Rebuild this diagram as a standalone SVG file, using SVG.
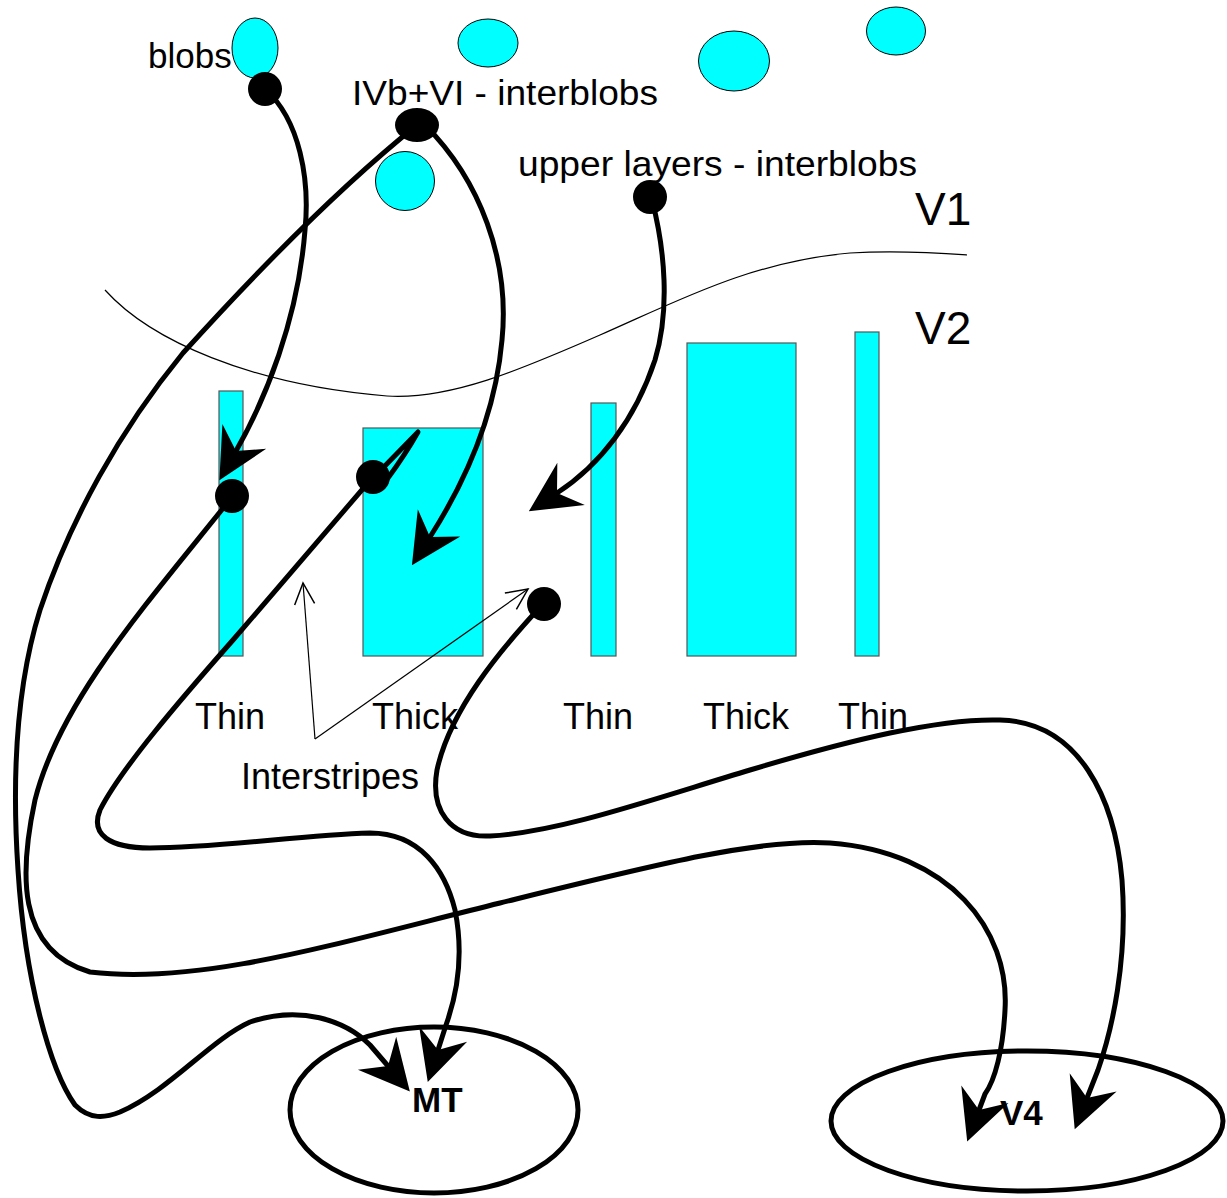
<svg xmlns="http://www.w3.org/2000/svg" width="1227" height="1198" viewBox="0 0 1227 1198">
<style>
.cy{fill:#00ffff;stroke:#000;stroke-width:1}
.st{fill:#00ffff;stroke:#555;stroke-width:1.2}
.dot{fill:#000}
.c{fill:none;stroke:#000;stroke-width:5;stroke-linecap:round;stroke-linejoin:round}
.arr{marker-end:url(#ah)}
.thin{fill:none;stroke:#000;stroke-width:1.2}
.lbl{font-family:"Liberation Sans",Arial,sans-serif;font-size:35px;fill:#000}
.big{font-size:46px}
.stripe{font-size:36px}
.area{fill:none;stroke:#000;stroke-width:5}
.alb{font-family:"Liberation Sans",Arial,sans-serif;font-size:35px;font-weight:bold;fill:#000}
</style>
<defs>
<marker id="ah" markerUnits="userSpaceOnUse" markerWidth="60" markerHeight="60" viewBox="-20 -25 50 50" refX="0" refY="0" orient="auto">
<path d="M28,0 L-14,-21 L0,0 L-14,21 Z" fill="#000"/>
</marker>
<marker id="oa" markerUnits="userSpaceOnUse" markerWidth="30" markerHeight="30" viewBox="-20 -12 24 24" refX="0" refY="0" orient="auto">
<path d="M-17,-8 L0,0 L-17,8" fill="none" stroke="#000" stroke-width="1.2"/>
</marker>
</defs>

<g id="v1-v2-border">
<path class="thin" d="M105,290 C150,340 250,385 387,396 C450,400 520,370 600,335 C680,300 750,262 850,253 C900,250 940,253 967,255"/>
</g>

<g id="blobs">
<ellipse class="cy" cx="255" cy="48" rx="23" ry="30"/>
<ellipse class="cy" cx="488" cy="43" rx="30" ry="24"/>
<ellipse class="cy" cx="405" cy="181" rx="29.5" ry="29.5"/>
<ellipse class="cy" cx="734" cy="61" rx="35.5" ry="30"/>
<ellipse class="cy" cx="896" cy="31" rx="29.5" ry="24"/>
</g>

<g id="stripes">
<rect id="thin1" class="st" x="219" y="391" width="24" height="265"/>
<rect id="thick1" class="st" x="363" y="428" width="120" height="228"/>
<rect id="thin2" class="st" x="591" y="403" width="25" height="253"/>
<rect id="thick2" class="st" x="687" y="343" width="109" height="313"/>
<rect id="thin3" class="st" x="855" y="332" width="24" height="324"/>
</g>

<g id="MT">
<ellipse class="area" cx="434" cy="1110" rx="144" ry="83"/>
<text class="alb" x="412" y="1112">MT</text>
</g>
<g id="V4">
<ellipse class="area" cx="1027" cy="1121" rx="196" ry="70"/>
<text class="alb" x="1000" y="1125">V4</text>
</g>

<g id="connectors">
<path id="blobs-to-thin" class="c arr" d="M265,89 C300,120 310,180 305,230 C298,320 265,400 236,451"/>
<path id="ivb-to-thick" class="c arr" d="M425,125 C480,180 510,260 502,340 C495,420 460,490 430,537"/>
<path id="upper-to-interstripe" class="c arr" d="M652,200 C665,250 670,310 655,360 C635,420 600,465 557,493"/>
<path id="ivb-to-MT" class="c arr" d="M417,125 C330,195 240,290 183,353 C120,430 70,520 40,610 C15,690 12,780 18,870 C25,980 50,1070 75,1105 C90,1120 105,1118 120,1112 C170,1090 210,1040 250,1022 C300,1005 345,1020 370,1045 L388,1066"/>
<path id="thin-to-V4" class="c arr" d="M232,497 C150,600 60,700 35,800 C20,870 15,950 90,972 C200,985 330,945 500,903 C650,866 760,838 830,843 C950,852 1010,930 1005,1010 C1003,1050 995,1080 985,1094 L979,1110"/>
<path id="thick-to-MT" class="c arr" d="M373,477 L233,640 C180,700 120,770 100,810 C90,835 110,848 150,848 C220,848 300,835 370,833 C420,833 445,870 455,910 C465,960 455,1000 446,1025 L438,1050"/>
<path id="thick-spur" class="c" d="M378,473 L418,432 Q405,455 388,478"/>
<path id="interstripe-to-V4" class="c arr" d="M543,604 C500,650 450,710 437,770 C430,810 450,838 490,836 C560,832 650,800 750,770 C850,740 940,718 1000,720 C1080,722 1115,800 1122,880 C1128,960 1112,1030 1098,1070 L1087,1098"/>
<path id="interstripes-ptr1" class="thin" marker-end="url(#oa)" d="M315,739 L303,583"/>
<path id="interstripes-ptr2" class="thin" marker-end="url(#oa)" d="M315,739 L528,589"/>
</g>

<g id="dots">
<circle class="dot" cx="265" cy="89" r="17"/>
<ellipse class="dot" cx="417" cy="125" rx="22" ry="17"/>
<circle class="dot" cx="650" cy="197" r="17"/>
<circle class="dot" cx="232" cy="496" r="17"/>
<circle class="dot" cx="373" cy="477" r="17"/>
<circle class="dot" cx="544" cy="604" r="17"/>
</g>

<g id="labels">
<text class="lbl" x="148" y="68">blobs</text>
<text class="lbl" x="352" y="105" textLength="306" lengthAdjust="spacingAndGlyphs">IVb+VI - interblobs</text>
<text class="lbl" x="518" y="176" textLength="399" lengthAdjust="spacingAndGlyphs">upper layers - interblobs</text>
<text class="lbl big" x="915" y="225">V1</text>
<text class="lbl big" x="915" y="344">V2</text>
<text class="lbl stripe" x="195" y="729">Thin</text>
<text class="lbl stripe" x="372" y="729">Thick</text>
<text class="lbl stripe" x="563" y="729">Thin</text>
<text class="lbl stripe" x="703" y="729">Thick</text>
<text class="lbl stripe" x="838" y="729">Thin</text>
<text class="lbl stripe" x="241" y="789">Interstripes</text>
</g>
</svg>
